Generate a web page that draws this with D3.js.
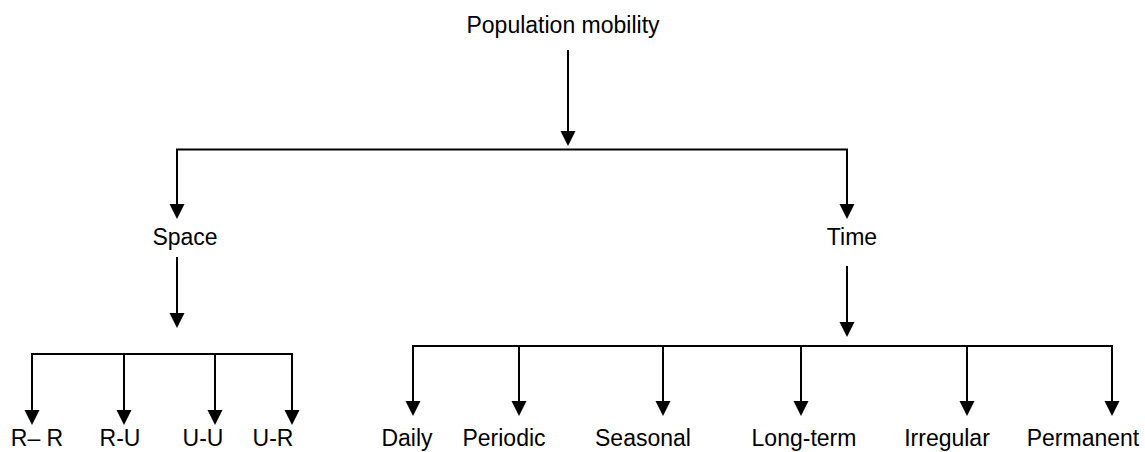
<!DOCTYPE html>
<html>
<head>
<meta charset="utf-8">
<script src="https://cdn.jsdelivr.net/npm/d3@7"></script>
<style>
  body { margin: 0; background: #fff; }
  text { font-family: "Liberation Sans", Arial, sans-serif; font-size: 23px; fill: #000; }
</style>
</head>
<body>
<div id="chart"></div>
<script>
// labels of the tree
var rootLabel = "Population mobility";
var branchLabels = ["Space", "Time"];
var spaceLabels = ["R\u2013 R", "R-U", "U-U", "U-R"];
var timeLabels = ["Daily", "Periodic", "Seasonal", "Long-term", "Irregular", "Permanent"];

// layout (pixel positions of arrows and labels)
var rootX = 568, rootLabelX = 563;
var branchX = [177, 847], branchLabelX = [185, 852];
var spaceX = [32, 124, 215, 292], spaceLabelX = [37, 120, 203, 273];
var timeX = [413, 519, 663, 801, 967, 1112], timeLabelX = [407, 504, 643, 804, 947, 1083];

var width = 1145, height = 452;

var svg = d3.select("#chart")
  .append("svg")
    .attr("width", width)
    .attr("height", height);

var ink = "#000";

// draw a vertical arrow ending at (x, y2)
function arrow(x, y1, y2) {
  svg.append("line")
    .attr("x1", x).attr("x2", x)
    .attr("y1", y1).attr("y2", y2 - 12)
    .attr("stroke", ink).attr("stroke-width", 2);
  svg.append("path")
    .attr("d", "M" + (x - 7.5) + "," + (y2 - 15) + "L" + (x + 7.5) + "," + (y2 - 15) + "L" + x + "," + y2 + "Z")
    .attr("fill", ink);
}

function hline(x1, x2, y) {
  svg.append("line")
    .attr("x1", x1 - 1).attr("x2", x2 + 1)
    .attr("y1", y).attr("y2", y)
    .attr("stroke", ink).attr("stroke-width", 2);
}

// root
svg.append("text")
  .attr("x", rootLabelX).attr("y", 33)
  .attr("text-anchor", "middle")
  .text(rootLabel);
arrow(rootX, 50, 146);

// first split
hline(branchX[0], branchX[1], 149.5);
branchX.forEach(function (x) { arrow(x, 149.5, 219); });

svg.selectAll(".branch")
  .data(branchLabels)
  .enter()
  .append("text")
    .attr("class", "branch")
    .attr("x", function (d, i) { return branchLabelX[i]; })
    .attr("y", 245)
    .attr("text-anchor", "middle")
    .text(function (d) { return d; });

// space group
arrow(branchX[0], 257, 328);
hline(spaceX[0], spaceX[spaceX.length - 1], 354);
spaceX.forEach(function (x) { arrow(x, 354, 425); });
svg.selectAll(".space")
  .data(spaceLabels)
  .enter()
  .append("text")
    .attr("class", "space")
    .attr("x", function (d, i) { return spaceLabelX[i]; })
    .attr("y", 446)
    .attr("text-anchor", "middle")
    .text(function (d) { return d; });

// time group
arrow(branchX[1], 266, 337);
hline(timeX[0], timeX[timeX.length - 1], 346);
timeX.forEach(function (x) { arrow(x, 346, 416); });
svg.selectAll(".time")
  .data(timeLabels)
  .enter()
  .append("text")
    .attr("class", "time")
    .attr("x", function (d, i) { return timeLabelX[i]; })
    .attr("y", 446)
    .attr("text-anchor", "middle")
    .text(function (d) { return d; });
</script>
</body>
</html>
